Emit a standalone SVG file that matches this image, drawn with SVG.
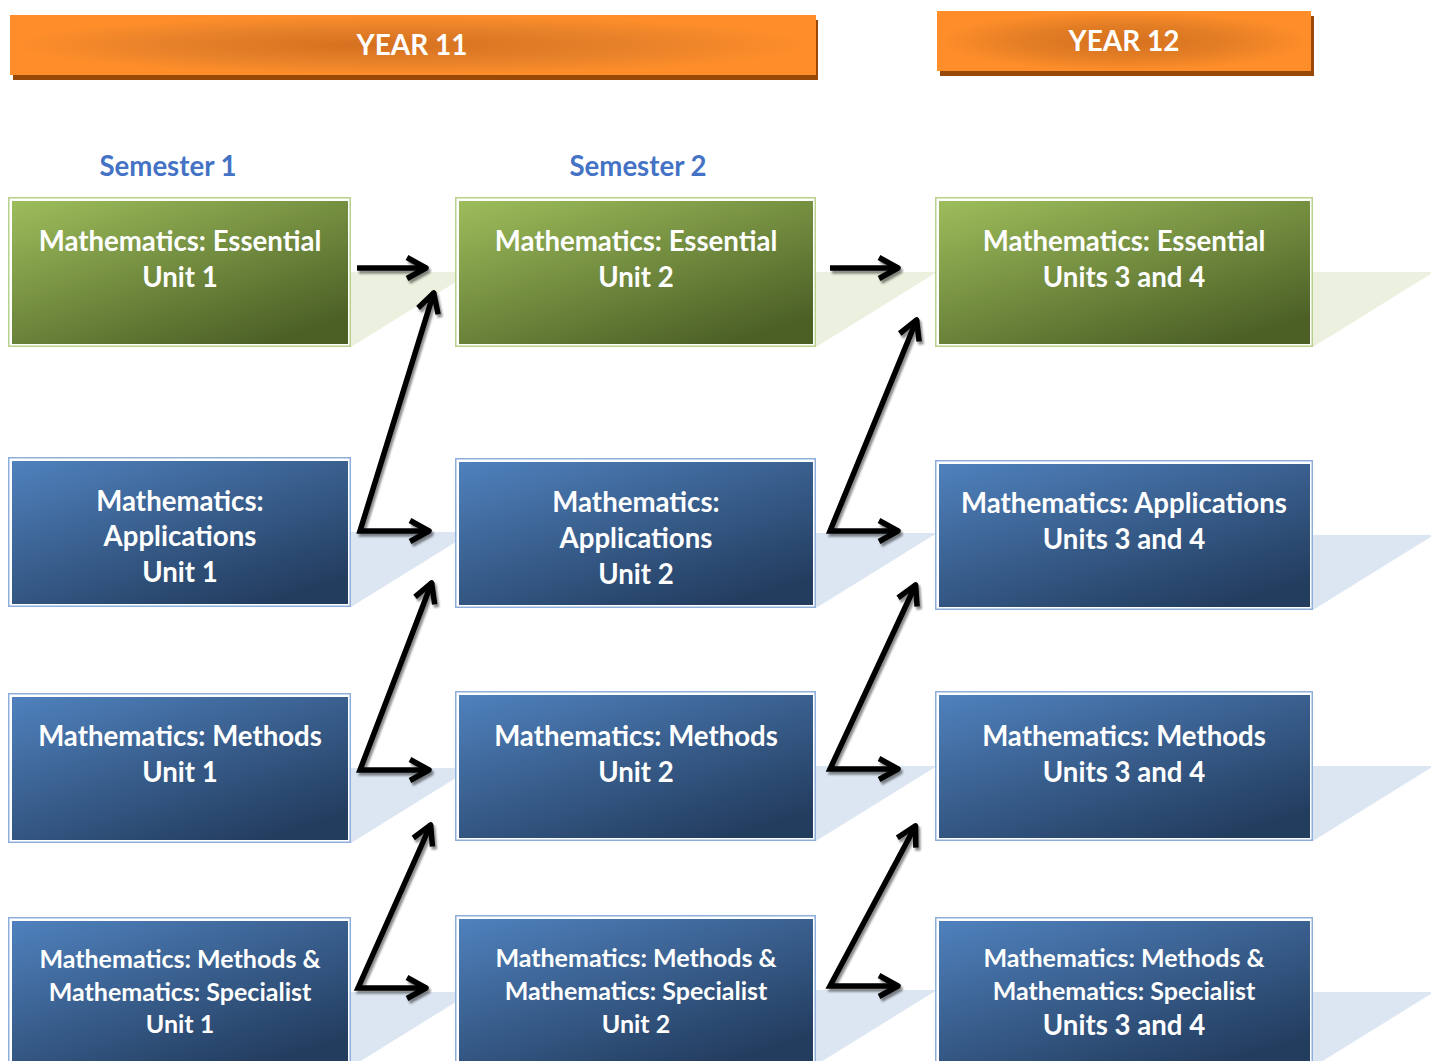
<svg xmlns="http://www.w3.org/2000/svg" width="1431" height="1061" viewBox="0 0 1431 1061">
<defs>
<style>
.t{font-family:Lato,"Open Sans","Liberation Sans",sans-serif;font-weight:bold;fill:#fff;text-anchor:middle;font-size:27.6px}
.ts{font-size:25px}
.sem{font-family:Lato,"Open Sans","Liberation Sans",sans-serif;font-weight:bold;fill:#4472C4;text-anchor:middle;font-size:27.6px}
.hd{font-family:Lato,"Open Sans","Liberation Sans",sans-serif;font-weight:bold;fill:#fff;text-anchor:middle;font-size:28px}
.fg{fill:#fff;stroke:#B7D08A;stroke-width:1.5}
.fb{fill:#fff;stroke:#8EAEDB;stroke-width:1.5}
.trg{fill:#EBF1DE}
.trb{fill:#DCE6F2}
.hs{fill:#984807}
.c{fill:none;stroke:#000;stroke-width:5.5;stroke-linejoin:miter;marker-end:url(#ah)}
.cz{marker-start:url(#ah)}
</style>
<linearGradient id="gG" x1="0" y1="0" x2="0.75" y2="1">
<stop offset="0" stop-color="#9DBD5B"/>
<stop offset="1" stop-color="#4C6026"/>
</linearGradient>
<linearGradient id="gB" x1="0" y1="0" x2="0.75" y2="1">
<stop offset="0" stop-color="#4F81BD"/>
<stop offset="1" stop-color="#233D5F"/>
</linearGradient>
<radialGradient id="gO" cx="0.5" cy="0.5" r="0.5">
<stop offset="0" stop-color="#D4701F"/>
<stop offset="0.55" stop-color="#E47E25"/>
<stop offset="1" stop-color="#FF8E2A"/>
</radialGradient>
<radialGradient id="gO11" cx="0.5" cy="0.5" r="0.5" fx="0.45">
<stop offset="0" stop-color="#D4701F"/>
<stop offset="0.6" stop-color="#E8822A"/>
<stop offset="1" stop-color="#FF8E2A"/>
</radialGradient>
<marker id="ah" markerUnits="userSpaceOnUse" markerWidth="40" markerHeight="40" viewBox="-30 -20 40 40" refX="0" refY="0" orient="auto-start-reverse" overflow="visible">
<path d="M-20,-10.5 L-1,0 L-20,10.5" fill="none" stroke="#000" stroke-width="5.5" stroke-linejoin="round" stroke-linecap="butt"/>
</marker>
<filter id="sh" x="-20%" y="-20%" width="140%" height="140%">
<feDropShadow dx="2" dy="3" stdDeviation="0.8" flood-color="#000" flood-opacity="0.45"/>
</filter>
</defs>
<rect width="1431" height="1061" fill="#fff"/>

<g id="year11">
<rect class="hs" x="13" y="20" width="805" height="60"/>
<rect x="10" y="15" width="806" height="60" fill="url(#gO11)"/>
<text class="hd" x="412" y="55">YEAR 11</text>
</g>
<g id="year12">
<rect class="hs" x="940" y="16" width="374" height="60"/>
<rect x="937" y="11" width="374" height="60" fill="url(#gO)"/>
<text class="hd" x="1124" y="51">YEAR 12</text>
</g>

<g id="semester1"><text class="sem" x="168" y="176">Semester 1</text></g>
<g id="semester2"><text class="sem" x="638" y="176">Semester 2</text></g>

<g id="reflections">
<polygon class="trg" points="351,272 472,272 351,347"/>
<polygon class="trg" points="816,272 937,272 816,347"/>
<polygon class="trg" points="1313,272 1434,272 1313,347"/>
<polygon class="trb" points="351,532 472,532 351,607"/>
<polygon class="trb" points="816,533 937,533 816,608"/>
<polygon class="trb" points="1313,535 1434,535 1313,610"/>
<polygon class="trb" points="351,768 472,768 351,843"/>
<polygon class="trb" points="816,766 937,766 816,841"/>
<polygon class="trb" points="1313,766 1434,766 1313,841"/>
<polygon class="trb" points="351,992 472,992 351,1067"/>
<polygon class="trb" points="816,990 937,990 816,1065"/>
<polygon class="trb" points="1313,992 1434,992 1313,1067"/>
</g>

<g id="ess1">
<rect class="fg" x="8.75" y="197.75" width="341.5" height="148.5"/>
<rect x="12" y="201" width="336" height="143" fill="url(#gG)"/>
<text class="t" x="180" y="251">Mathematics: Essential</text>
<text class="t" x="180" y="287">Unit 1</text>
</g>
<g id="ess2">
<rect class="fg" x="455.75" y="197.75" width="359.5" height="148.5"/>
<rect x="459" y="201" width="354" height="143" fill="url(#gG)"/>
<text class="t" x="636" y="251">Mathematics: Essential</text>
<text class="t" x="636" y="287">Unit 2</text>
</g>
<g id="ess34">
<rect class="fg" x="935.75" y="197.75" width="376.5" height="148.5"/>
<rect x="939" y="201" width="371" height="143" fill="url(#gG)"/>
<text class="t" x="1124" y="251">Mathematics: Essential</text>
<text class="t" x="1124" y="287">Units 3 and 4</text>
</g>

<g id="app1">
<rect class="fb" x="8.75" y="457.75" width="341.5" height="148.5"/>
<rect x="12" y="461" width="336" height="143" fill="url(#gB)"/>
<text class="t" x="180" y="511">Mathematics:</text>
<text class="t" x="180" y="546">Applications</text>
<text class="t" x="180" y="582">Unit 1</text>
</g>
<g id="app2">
<rect class="fb" x="455.75" y="458.75" width="359.5" height="148.5"/>
<rect x="459" y="462" width="354" height="143" fill="url(#gB)"/>
<text class="t" x="636" y="512">Mathematics:</text>
<text class="t" x="636" y="548">Applications</text>
<text class="t" x="636" y="584">Unit 2</text>
</g>
<g id="app34">
<rect class="fb" x="935.75" y="460.75" width="376.5" height="148.5"/>
<rect x="939" y="464" width="371" height="143" fill="url(#gB)"/>
<text class="t" x="1124" y="513">Mathematics: Applications</text>
<text class="t" x="1124" y="549">Units 3 and 4</text>
</g>

<g id="meth1">
<rect class="fb" x="8.75" y="693.75" width="341.5" height="148.5"/>
<rect x="12" y="697" width="336" height="143" fill="url(#gB)"/>
<text class="t" x="180" y="746">Mathematics: Methods</text>
<text class="t" x="180" y="782">Unit 1</text>
</g>
<g id="meth2">
<rect class="fb" x="455.75" y="691.75" width="359.5" height="148.5"/>
<rect x="459" y="695" width="354" height="143" fill="url(#gB)"/>
<text class="t" x="636" y="746">Mathematics: Methods</text>
<text class="t" x="636" y="782">Unit 2</text>
</g>
<g id="meth34">
<rect class="fb" x="935.75" y="691.75" width="376.5" height="148.5"/>
<rect x="939" y="695" width="371" height="143" fill="url(#gB)"/>
<text class="t" x="1124" y="746">Mathematics: Methods</text>
<text class="t" x="1124" y="782">Units 3 and 4</text>
</g>

<g id="spec1">
<rect class="fb" x="8.75" y="917.75" width="341.5" height="148.5"/>
<rect x="12" y="921" width="336" height="143" fill="url(#gB)"/>
<text class="t ts" x="180" y="968">Mathematics: Methods &amp;</text>
<text class="t ts" x="180" y="1001">Mathematics: Specialist</text>
<text class="t ts" x="180" y="1033">Unit 1</text>
</g>
<g id="spec2">
<rect class="fb" x="455.75" y="915.75" width="359.5" height="148.5"/>
<rect x="459" y="919" width="354" height="143" fill="url(#gB)"/>
<text class="t ts" x="636" y="967">Mathematics: Methods &amp;</text>
<text class="t ts" x="636" y="1000">Mathematics: Specialist</text>
<text class="t ts" x="636" y="1033">Unit 2</text>
</g>
<g id="spec34">
<rect class="fb" x="935.75" y="917.75" width="376.5" height="148.5"/>
<rect x="939" y="921" width="371" height="143" fill="url(#gB)"/>
<text class="t ts" x="1124" y="967">Mathematics: Methods &amp;</text>
<text class="t ts" x="1124" y="1000">Mathematics: Specialist</text>
<text class="t" x="1124" y="1035">Units 3 and 4</text>
</g>

<g id="connectors" filter="url(#sh)">
<path class="c" d="M357,268 H427"/>
<path class="c cz" d="M434,292 L360,531 H430"/>
<path class="c cz" d="M432,582 L360,770 H430"/>
<path class="c cz" d="M431,824 L358,988 H427"/>
<path class="c" d="M830,268 H899"/>
<path class="c cz" d="M917,319 L830,531 H899"/>
<path class="c cz" d="M916,584 L830,769 H899"/>
<path class="c cz" d="M916,825 L830,986 H899"/>
</g>
</svg>
